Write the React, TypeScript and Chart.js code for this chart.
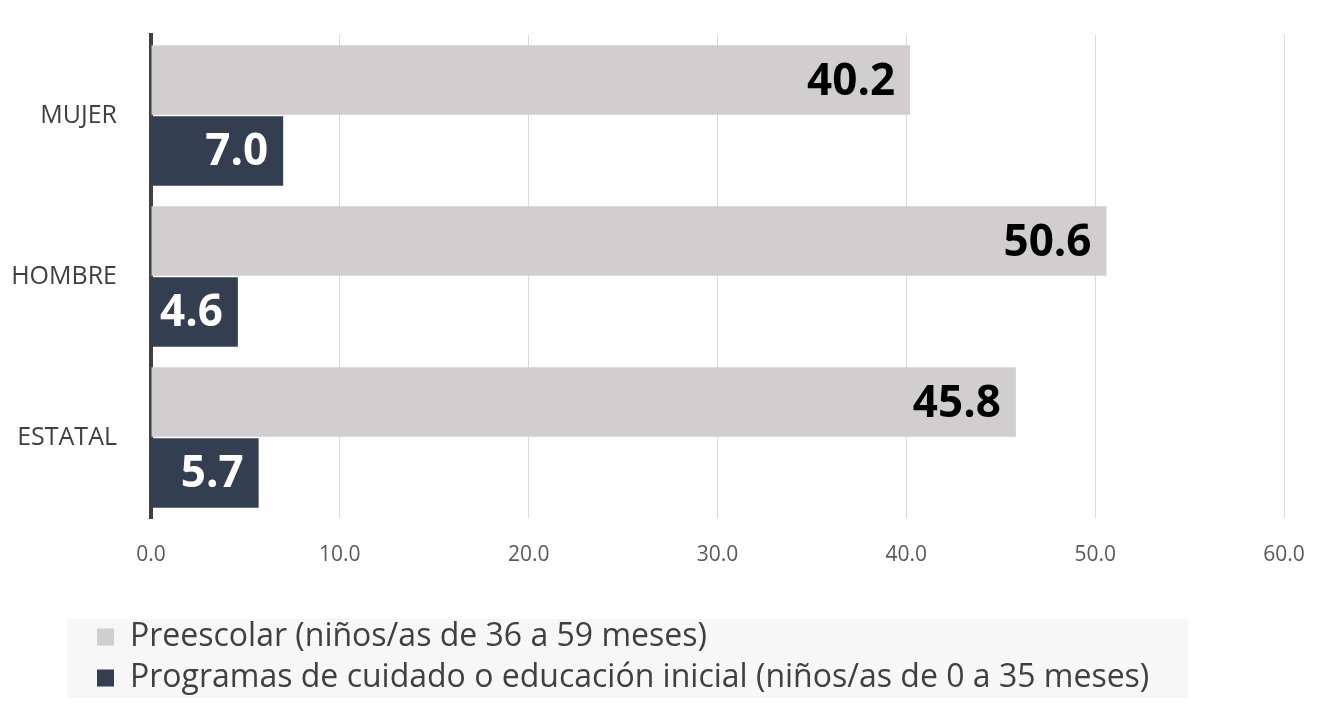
import React, { useEffect, useRef } from "react";
import { Chart, registerables } from "chart.js";

Chart.register(...registerables);

const categories = ["MUJER", "HOMBRE", "ESTATAL"];
const preescolar = [40.2, 50.6, 45.8];
const programas = [7.0, 4.6, 5.7];
const seriesNames = [
  "Preescolar (niños/as de 36 a 59 meses)",
  "Programas de cuidado o educación inicial (niños/as de 0 a 35 meses)",
];
const xTicks = [0, 10, 20, 30, 40, 50, 60];

const FONT = "'Open Sans', 'DejaVu Sans', sans-serif";

const barLabels = {
  id: "barLabels",
  afterDatasetsDraw(chart: any) {
    const ctx = chart.ctx;
    const colors = ["#000000", "#ffffff"];
    ctx.save();
    ctx.font = `bold 44px ${FONT}`;
    ctx.textAlign = "right";
    ctx.textBaseline = "middle";
    chart.data.datasets.forEach((ds: any, di: number) => {
      const meta = chart.getDatasetMeta(di);
      meta.data.forEach((el: any, i: number) => {
        ctx.fillStyle = colors[di];
        ctx.fillText(Number(ds.data[i]).toFixed(1), el.x - 15, el.y + 2);
      });
    });
    ctx.restore();
  },
};

const legendPlace = {
  id: "legendPlace",
  afterLayout(chart: any) {
    const lg = chart.legend;
    if (lg) lg.left = 88;
  },
  beforeDraw(chart: any) {
    const lg = chart.legend;
    if (!lg) return;
    const ctx = chart.ctx;
    ctx.save();
    ctx.fillStyle = "#f7f7f7";
    ctx.fillRect(lg.left - 21, lg.top + 7, 1121, 79);
    ctx.restore();
  },
};

export default function App() {
  const ref = useRef<HTMLCanvasElement | null>(null);
  useEffect(() => {
    if (!ref.current) return;
    const chart = new Chart(ref.current, {
      type: "bar",
      data: {
        labels: categories,
        datasets: [
          {
            label: seriesNames[0],
            data: preescolar,
            backgroundColor: "#d0cece",
            borderWidth: 0,
            categoryPercentage: 0.88,
            barPercentage: 0.98,
          },
          {
            label: seriesNames[1],
            data: programas,
            backgroundColor: "#333f50",
            borderWidth: 0,
            categoryPercentage: 0.88,
            barPercentage: 0.98,
          },
        ],
      },
      plugins: [barLabels, legendPlace],
      options: {
        indexAxis: "y",
        animation: false,
        responsive: true,
        maintainAspectRatio: false,
        layout: { padding: { left: 0, right: 39, top: 35, bottom: 9 } },
        plugins: {
          tooltip: { enabled: false },
          legend: {
            position: "bottom",
            align: "start",
            labels: {
              boxWidth: 17,
              boxHeight: 17,
              padding: 9,
              color: "#404040",
              font: { family: FONT, size: 32 },
            },
          },
        },
        scales: {
          x: {
            min: 0,
            max: 60,
            afterBuildTicks(scale: any) {
              scale.ticks = xTicks.map((v) => ({ value: v }));
            },
            afterFit(scale: any) {
              scale.height = 94;
            },
            ticks: {
              padding: 0,
              color: "#595959",
              font: { family: FONT, size: 21 },
              callback: (v: any) => Number(v).toFixed(1),
            },
            grid: {
              color: "#d9d9d9",
              lineWidth: 1,
              drawTicks: true,
              tickLength: 24,
              tickColor: "rgba(0,0,0,0)",
            },
            border: { display: false },
          },
          y: {
            afterFit(scale: any) {
              scale.width = 151;
            },
            ticks: {
              padding: 0,
              color: "#404040",
              font: { family: FONT, size: 25 },
            },
            grid: { display: false, drawTicks: true, tickLength: 34 },
            border: { display: true, color: "#404040", width: 4 },
          },
        },
      },
    } as any);
    return () => chart.destroy();
  }, []);
  return (
    <div style={{ position: "fixed", left: 0, top: 0, width: 1323, height: 713, background: "#ffffff" }}>
      <canvas ref={ref} />
    </div>
  );
}
